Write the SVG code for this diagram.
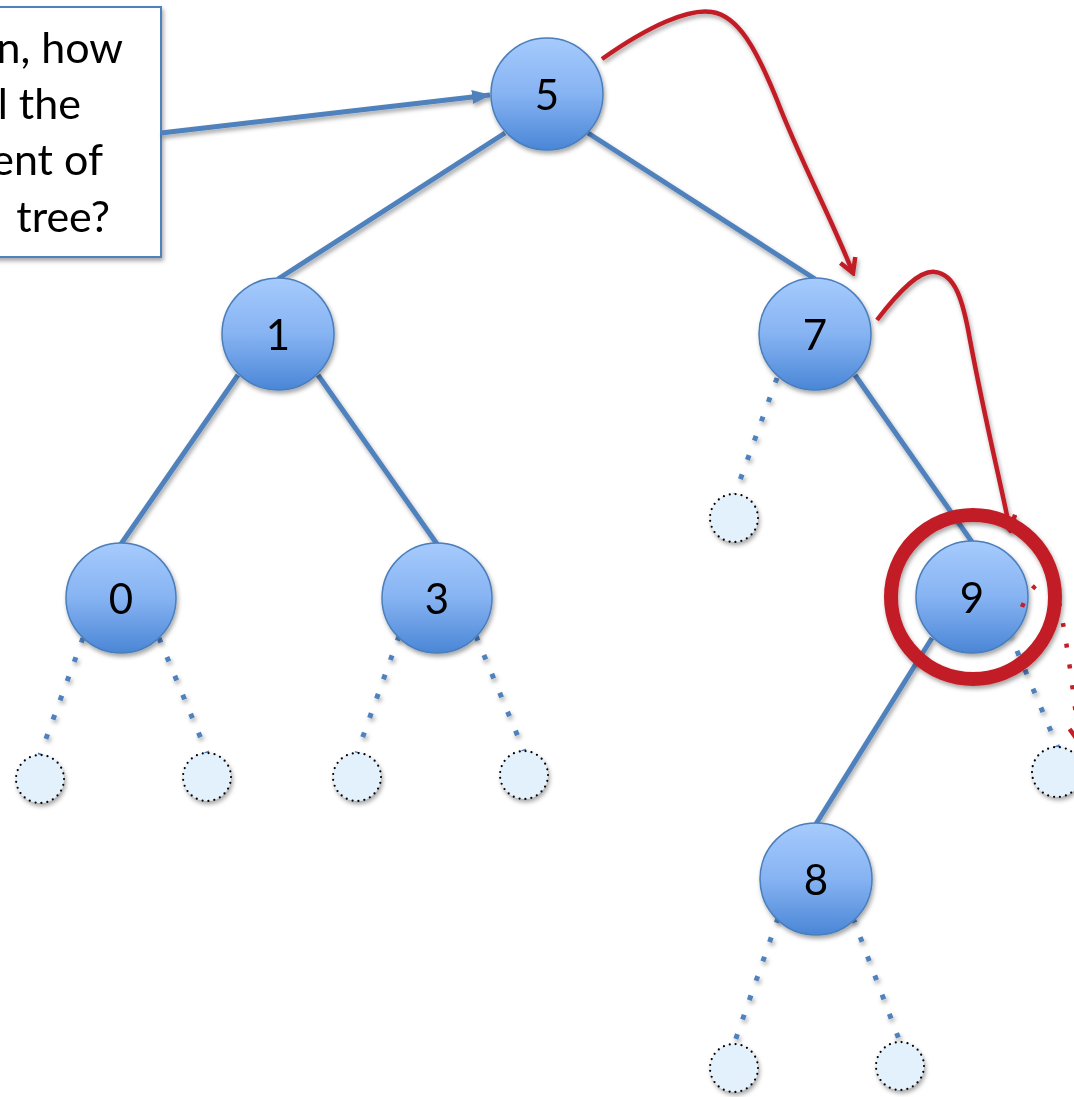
<svg xmlns="http://www.w3.org/2000/svg" width="1074" height="1097" viewBox="0 0 1074 1097">
  <style>
    .edge { stroke: #4f81bd; stroke-width: 5; fill: none; }
    .nil-edge { stroke: #4f81bd; stroke-width: 5; fill: none; stroke-dasharray: 5 15.5; }
    .node circle { fill: url(#nodeFill); stroke: #4a7ebb; stroke-width: 1.5; }
    .node text { font-family: Lato, "Open Sans", "Liberation Sans", sans-serif; font-size: 42px; fill: #000; text-anchor: middle; }
    .nil circle { fill: #e3f1fd; stroke: #000; stroke-width: 2.2; stroke-dasharray: 0 6; stroke-linecap: round; }
    .walk { stroke: #c21f26; stroke-width: 4.5; fill: none; }
    .note { font-family: Lato, "Open Sans", "Liberation Sans", sans-serif; font-size: 43px; fill: #000; text-anchor: end; }
  </style>
  <defs>
    <linearGradient id="nodeFill" x1="0" y1="0" x2="0" y2="1">
      <stop offset="0" stop-color="#a6cbfd"/>
      <stop offset="0.5" stop-color="#86b3f2"/>
      <stop offset="1" stop-color="#4a86d6"/>
    </linearGradient>
    <filter id="shadow" x="-30%" y="-30%" width="160%" height="160%">
      <feDropShadow dx="1.5" dy="3" stdDeviation="2" flood-color="#000" flood-opacity="0.35"/>
    </filter>
    <marker id="openHead" viewBox="0 0 20 20" markerWidth="20" markerHeight="20" refX="17" refY="10" orient="auto" markerUnits="userSpaceOnUse">
      <path d="M3,2 L17,10 L3,18" fill="none" stroke="#c21f26" stroke-width="4.5"/>
    </marker>
    <marker id="blueHead" viewBox="0 0 20 20" markerWidth="20" markerHeight="20" refX="18" refY="10" orient="auto" markerUnits="userSpaceOnUse">
      <path d="M0,3 L19,10 L0,17 Z" fill="#4f81bd"/>
    </marker>
  </defs>

  <!-- question box, running off the left edge -->
  <g id="note" filter="url(#shadow)">
    <rect x="-10" y="7" width="171" height="250" fill="#fff" stroke="#4f81bd" stroke-width="2"/>
    <text class="note" x="123" y="63">n, how</text>
    <text class="note" x="81" y="119">l the</text>
    <text class="note" x="103" y="175">ent of</text>
    <text class="note" x="110" y="232">tree?</text>
  </g>

  <!-- tree edges -->
  <g id="connectors" filter="url(#shadow)">
    <line class="edge" x1="161" y1="133" x2="490" y2="95" marker-end="url(#blueHead)"/>
    <line class="edge" x1="505" y1="133" x2="278" y2="279"/>
    <line class="edge" x1="588" y1="133" x2="815" y2="279"/>
    <line class="edge" x1="238" y1="375" x2="121" y2="544"/>
    <line class="edge" x1="318" y1="375" x2="437" y2="544"/>
    <line class="edge" x1="855" y1="375" x2="972" y2="542"/>
    <line class="edge" x1="932" y1="638" x2="816" y2="824"/>
    <line class="nil-edge" x1="83" y1="638" x2="40" y2="755"/>
    <line class="nil-edge" x1="159" y1="638" x2="207" y2="753"/>
    <line class="nil-edge" x1="399" y1="636" x2="357" y2="753"/>
    <line class="nil-edge" x1="476" y1="636" x2="524" y2="751"/>
    <line class="nil-edge" x1="777" y1="378" x2="735" y2="494"/>
    <line class="nil-edge" x1="1009" y1="632" x2="1058" y2="748"/>
    <line class="nil-edge" x1="778" y1="918" x2="734" y2="1044"/>
    <line class="nil-edge" x1="853" y1="918" x2="900" y2="1042"/>
  </g>

  <!-- empty child slots -->
  <g id="nil-0a" class="nil" filter="url(#shadow)"><circle cx="40" cy="779" r="24"/></g>
  <g id="nil-0b" class="nil" filter="url(#shadow)"><circle cx="207" cy="777" r="24"/></g>
  <g id="nil-3a" class="nil" filter="url(#shadow)"><circle cx="357" cy="777" r="24"/></g>
  <g id="nil-3b" class="nil" filter="url(#shadow)"><circle cx="524" cy="775" r="24"/></g>
  <g id="nil-7a" class="nil" filter="url(#shadow)"><circle cx="734" cy="518" r="24"/></g>
  <g id="nil-9b" class="nil" filter="url(#shadow)"><circle cx="1057" cy="772" r="25"/></g>
  <g id="nil-8a" class="nil" filter="url(#shadow)"><circle cx="734" cy="1068" r="24"/></g>
  <g id="nil-8b" class="nil" filter="url(#shadow)"><circle cx="900" cy="1066" r="24"/></g>

  <!-- keyed nodes -->
  <g id="node-5" class="node" filter="url(#shadow)"><circle cx="547" cy="94" r="56"/><text x="547" y="110">5</text></g>
  <g id="node-1" class="node" filter="url(#shadow)"><circle cx="278" cy="334" r="56"/><text x="278" y="350">1</text></g>
  <g id="node-7" class="node" filter="url(#shadow)"><circle cx="815" cy="334" r="56"/><text x="815" y="350">7</text></g>
  <g id="node-0" class="node" filter="url(#shadow)"><circle cx="121" cy="598" r="55"/><text x="121" y="614">0</text></g>
  <g id="node-3" class="node" filter="url(#shadow)"><circle cx="437" cy="598" r="55"/><text x="437" y="614">3</text></g>
  <g id="node-9" class="node" filter="url(#shadow)"><circle cx="972" cy="597" r="56"/><text x="972" y="613">9</text></g>
  <g id="node-8" class="node" filter="url(#shadow)"><circle cx="816" cy="879" r="56"/><text x="816" y="895">8</text></g>

  <!-- successor walk -->
  <g id="walk">
    <path class="walk" d="M602,59 C650,25 690,8 712,12 C738,16 756,48 777,100 C800,160 830,215 853,273" marker-end="url(#openHead)" filter="url(#shadow)"/>
    <path class="walk" d="M877,320 C900,290 920,270 935,272 C955,274 963,300 970,340 C985,420 1000,480 1010,530" marker-end="url(#openHead)" filter="url(#shadow)"/>
    <path class="walk" d="M1022,607 C1034,578 1052,572 1058,598 C1064,625 1071,670 1079,742" stroke-dasharray="4 17" marker-end="url(#openHead)"/>
    <circle id="current" cx="973" cy="597" r="82" fill="none" stroke="#c21f26" stroke-width="14" filter="url(#shadow)"/>
  </g>
</svg>
